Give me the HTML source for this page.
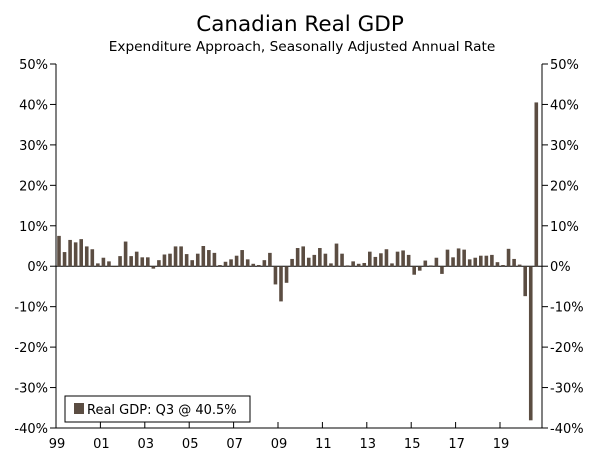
<!DOCTYPE html>
<html><head><meta charset="utf-8"><style>
body{margin:0;background:#fff;}
svg text{font-family:"DejaVu Sans","Liberation Sans",sans-serif;fill:#000;}
</style></head><body>
<svg id="chart" width="600" height="465" viewBox="0 0 600 465" xmlns="http://www.w3.org/2000/svg">
<text x="300" y="31" text-anchor="middle" font-size="21.5">Canadian Real GDP</text>
<text x="302" y="51" text-anchor="middle" font-size="13.7">Expenditure Approach, Seasonally Adjusted Annual Rate</text>
<g id="axes"></g>
<g id="bars"></g>
<g>
<rect x="65" y="396" width="185" height="26" fill="#fff" stroke="#000" stroke-width="1"/>
<rect x="74" y="403" width="10" height="11" fill="#5b4d42"/>
<text x="87" y="414" font-size="13">Real GDP: Q3 @ 40.5%</text>
</g>
</svg>
<script>
const yTicks=[50,40,30,20,10,0,-10,-20,-30,-40];
const xLabels=["99","01","03","05","07","09","11","13","15","17","19"];
const gdp=[7.5,3.5,6.5,5.9,6.7,4.9,4.2,0.7,2.1,1.2,-0.2,2.5,6.1,2.5,3.6,2.2,2.2,-0.6,1.5,2.9,3.1,4.9,4.9,3.0,1.5,3.1,5.0,4.0,3.3,0.3,1.1,1.7,2.6,4.0,1.7,0.6,0.3,1.5,3.3,-4.5,-8.7,-4.1,1.8,4.5,4.9,2.1,2.8,4.5,3.1,0.7,5.6,3.1,0.2,1.2,0.6,0.8,3.6,2.3,3.2,4.2,0.7,3.6,3.9,2.8,-2.1,-1.1,1.4,0.2,2.1,-1.9,4.1,2.2,4.4,4.1,1.7,2.1,2.6,2.6,2.8,1.0,0.3,4.3,1.8,0.4,-7.4,-38.1,40.5];
const NS="http://www.w3.org/2000/svg";
const X0=56,X1=542,Y0=64,Y1=428,step=5.55;
const y=v=>Y0+(50-v)/90*(Y1-Y0);
const x=i=>X0+i*step;
const ax=document.getElementById('axes'),bg=document.getElementById('bars');
function mk(p,tag,a){const e=document.createElementNS(NS,tag);for(const k in a)e.setAttribute(k,a[k]);p.appendChild(e);return e;}
let l=mk(ax,'line',{x1:X0,y1:Y0,x2:X0,y2:Y1,stroke:'#000'});

l=mk(ax,'line',{x1:X1,y1:Y0,x2:X1,y2:Y1,stroke:'#000'});

l=mk(ax,'line',{x1:X0,y1:Y1,x2:X1,y2:Y1,stroke:'#000'});

yTicks.forEach(v=>{
 const yy=y(v);
 mk(ax,'line',{x1:X0-6,y1:yy,x2:X0,y2:yy,stroke:'#000'});
 mk(ax,'line',{x1:X1,y1:yy,x2:X1+6,y2:yy,stroke:'#000'});
 let t=mk(ax,'text',{x:X0-8,y:yy+5,'text-anchor':'end','font-size':'13'});t.textContent=v+'%';
 
 t=mk(ax,'text',{x:X1+8,y:yy+5,'font-size':'13'});t.textContent=v+'%';
 
});
mk(ax,'line',{x1:X0,y1:y(0),x2:X1,y2:y(0),stroke:'#000'});
xLabels.forEach((s,k)=>{
 const xx=x(k*8);
 mk(ax,'line',{x1:xx,y1:Y1-6,x2:xx,y2:Y1,stroke:'#000'});
 const t=mk(ax,'text',{x:xx+1,y:Y1+20,'text-anchor':'middle','font-size':'13'});t.textContent=s;
 
});
gdp.forEach((v,i)=>{
 const cx=x(i)+3;
 const r=mk(bg,'rect',{x:cx-1.8,y:Math.min(y(v),y(0)),width:3.6,height:Math.abs(y(v)-y(0)),fill:'#5b4d42'});
 
 
});
</script>
</body></html>
